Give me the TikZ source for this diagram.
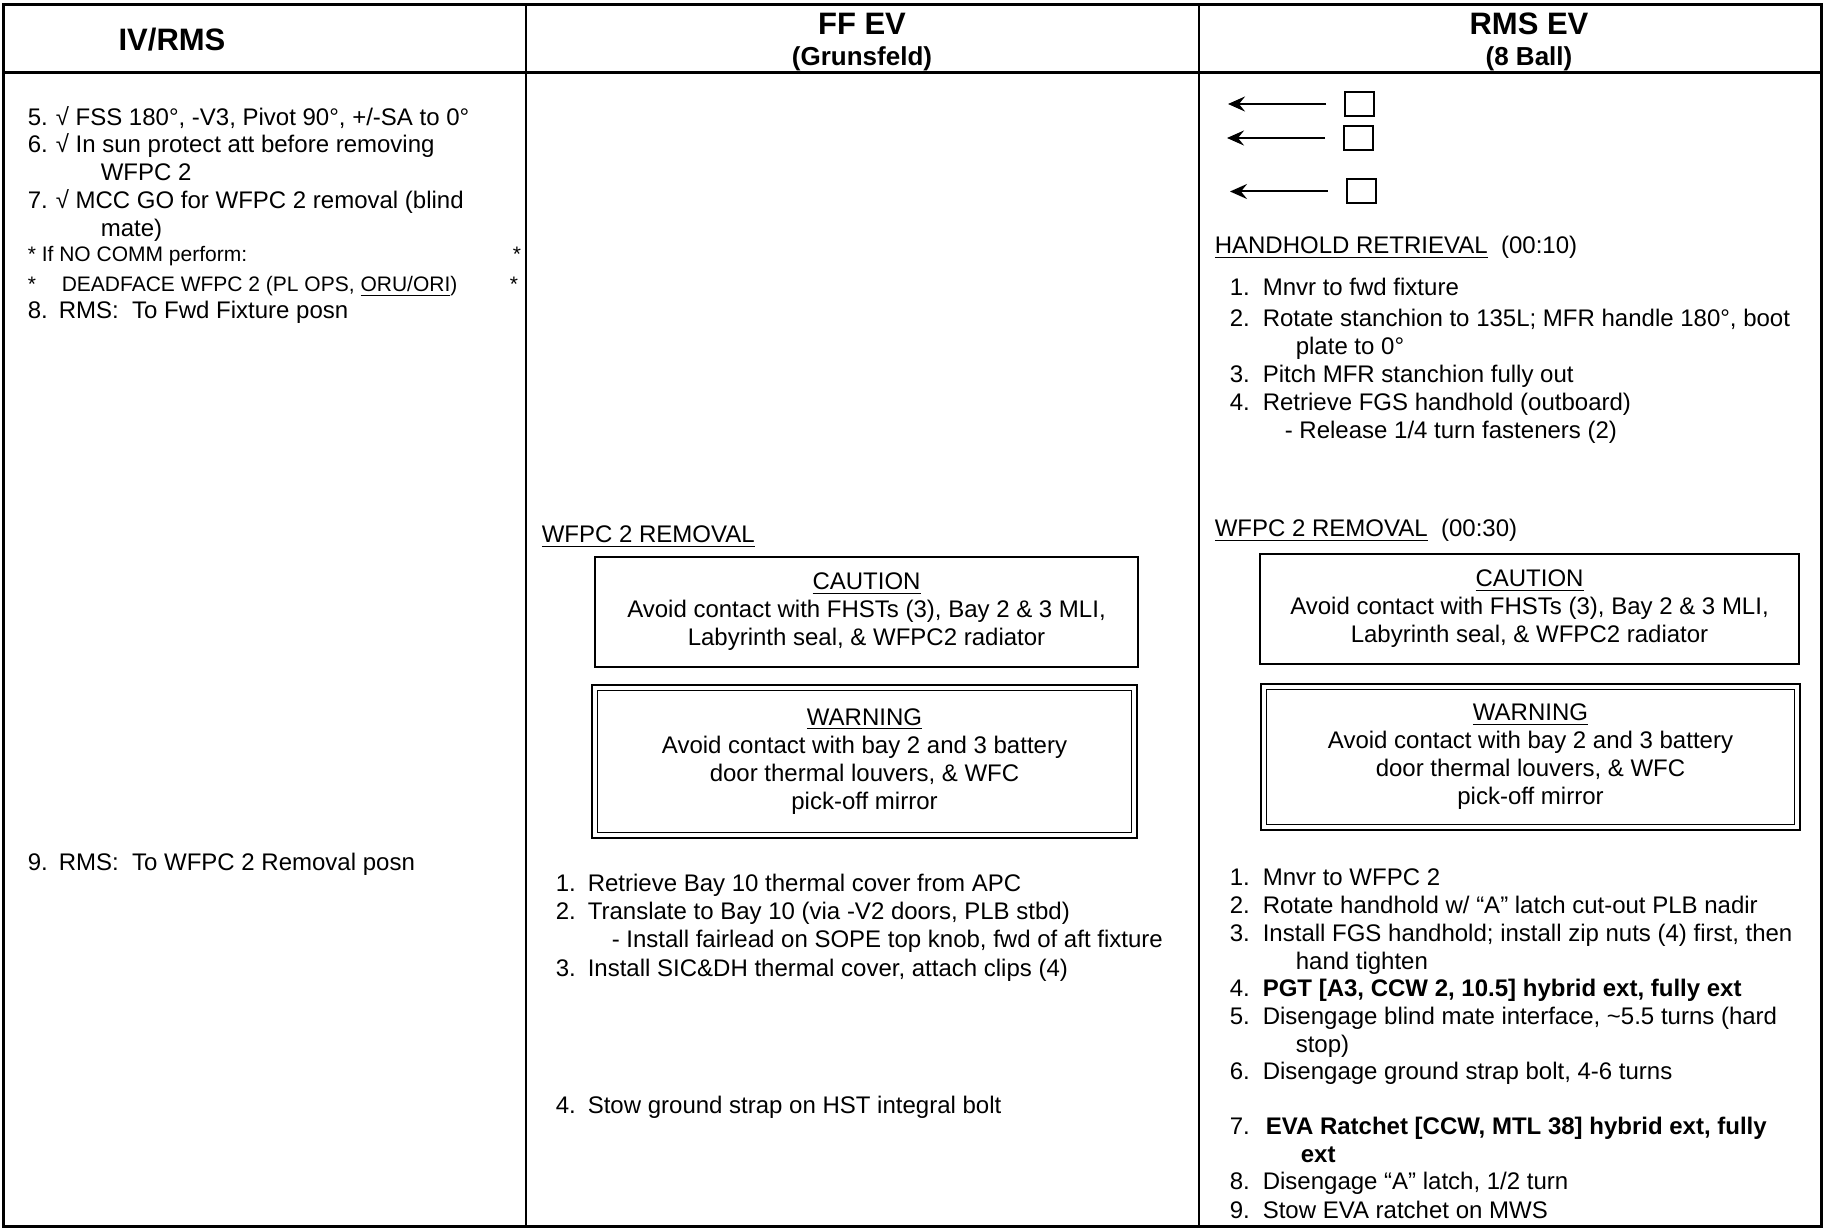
\documentclass[tikz,border=0pt]{standalone}
\usepackage{fontspec}
\setmainfont{Liberation Sans}
\usetikzlibrary{arrows.meta}
\newcommand{\stepnum}[2][16pt]{\makebox[#1][l]{#2}}
\tikzset{
    %Define standard arrow tip
    >={Stealth[length=8.5pt,width=7.5pt,inset=3pt]},
    %Define style for text lines (multi-line nodes sit on their last line)
    txt/.style={
           anchor=base west,
           inner sep=0pt,
           align=left,
           font=\fontsize{12pt}{14pt}\selectfont},
    smalltxt/.style={
           txt,
           font=\fontsize{10.5pt}{12.5pt}\selectfont},
    hdr/.style={
           anchor=base,
           inner sep=0pt,
           font=\bfseries\fontsize{15.5pt}{18pt}\selectfont},
    subhdr/.style={
           hdr,
           font=\bfseries\fontsize{13pt}{15pt}\selectfont},
    %Define style for boxes
    cautionbox/.style={
           rectangle,
           draw=black, line width=1pt,
           inner sep=0pt,
           align=center,
           font=\fontsize{12pt}{14pt}\selectfont},
    warnbox/.style={
           cautionbox,
           double, double distance=2pt, line width=0.8pt},
    chkbox/.style={
           rectangle,
           draw=black, line width=1pt,
           minimum width=14.5pt,
           minimum height=12pt},
    % Define arrow style
    pil/.style={
           ->,
           line width=1pt,
           shorten <=9pt}
}
\begin{document}
\begin{tikzpicture}[x=0.5pt,y=-0.5pt,thick]
\useasboundingbox (0,0) rectangle (1825,1229);
 %table
\draw[line width=1.5pt] (3.5,4.5) rectangle (1821.5,1226.5);
\draw[line width=1.5pt] (3.5,73) -- (1821.5,73);
\draw[line width=0.75pt] (526,4.5) -- (526,1226.5);
\draw[line width=0.75pt] (1199,4.5) -- (1199,1226.5);

 %headers
\node[hdr] (iv) at (172,51) {IV/RMS};
\node[hdr] (ffev) at (862,35) {FF EV};
\node[subhdr] (ffname) at (862,66) {(Grunsfeld)};
\node[hdr] (rmsev) at (1529,35) {RMS EV};
\node[subhdr] (rmsname) at (1529,66) {(8 Ball)};

 %IV/RMS column
\node[txt] (iv5) at (27,126) {\stepnum[14pt]{5.}√ FSS 180°, -V3, Pivot 90°, +/-SA to 0°};
\node[txt] (iv6) at (27,181) {\stepnum[14pt]{6.}√ In sun protect att before removing\\\hspace*{36.5pt}WFPC 2};
\node[txt] (iv7) at (27,237) {\stepnum[14pt]{7.}√ MCC GO for WFPC 2 removal (blind\\\hspace*{36.5pt}mate)};
\node[smalltxt] (nocomm) at (27,262) {\makebox[242.5pt][l]{* If NO COMM perform:}*};
\node[smalltxt] (deadface) at (27,292) {\makebox[17pt][l]{*}\makebox[224pt][l]{DEADFACE WFPC 2 (PL OPS, \underline{ORU/ORI})}*};
\node[txt] (iv8) at (27,319) {\stepnum[15.5pt]{8.}RMS:\ \ To Fwd Fixture posn};
\node[txt] (iv9) at (27,870) {\stepnum[15.5pt]{9.}RMS:\ \ To WFPC 2 Removal posn};

 %FF EV column
\node[txt] (ffhead) at (541,543) {\underline{WFPC 2 REMOVAL}};
\node[cautionbox, minimum width=271.5pt, minimum height=55pt] (ffcaution) at (866.5,612)
  {\underline{CAUTION}\\Avoid contact with FHSTs (3), Bay 2 \& 3 MLI,\\Labyrinth seal, \& WFPC2 radiator};
\node[warnbox, minimum width=269.9pt, minimum height=73.9pt] (ffwarn) at (864.5,761.5)
  {\underline{WARNING}\\Avoid contact with bay 2 and 3 battery\\door thermal louvers, \& WFC\\pick-off mirror};
\node[txt] (ff1) at (555,891) {\stepnum{1.}Retrieve Bay 10 thermal cover from APC};
\node[txt] (ff2) at (555,947) {\stepnum{2.}Translate to Bay 10 (via -V2 doors, PLB stbd)\\\hspace*{28pt}- Install fairlead on SOPE top knob, fwd of aft fixture};
\node[txt] (ff3) at (555,976) {\stepnum{3.}Install SIC\&DH thermal cover, attach clips (4)};
\node[txt] (ff4) at (555,1113) {\stepnum{4.}Stow ground strap on HST integral bolt};

 %RMS EV column
\node[chkbox] (chk1) at (1359.5,104) {};
\node[chkbox] (chk2) at (1358.5,138) {};
\node[chkbox] (chk3) at (1361,191.5) {};
\coordinate (tip1) at (1228,104);
\coordinate (tip2) at (1227,138);
\coordinate (tip3) at (1230,191.5);
\draw[pil] (chk1) -- (tip1);
\draw[pil] (chk2) -- (tip2);
\draw[pil] (chk3) -- (tip3);

\node[txt] (hhhead) at (1214,254) {\underline{HANDHOLD RETRIEVAL}\ \ (00:10)};
\node[txt] (hh1) at (1229,296) {\stepnum[16.5pt]{1.}Mnvr to fwd fixture};
\node[txt] (hh2) at (1229,355) {\stepnum[16.5pt]{2.}Rotate stanchion to 135L; MFR handle 180°, boot\\\hspace*{33pt}plate to 0°};
\node[txt] (hh3) at (1229,383) {\stepnum[16.5pt]{3.}Pitch MFR stanchion fully out};
\node[txt] (hh4) at (1229,439) {\stepnum[16.5pt]{4.}Retrieve FGS handhold (outboard)\\\hspace*{27.5pt}- Release 1/4 turn fasteners (2)};

\node[txt] (rmshead) at (1214,537) {\underline{WFPC 2 REMOVAL}\ \ (00:30)};
\node[cautionbox, minimum width=269.5pt, minimum height=55pt] (rmscaution) at (1529.5,609)
  {\underline{CAUTION}\\Avoid contact with FHSTs (3), Bay 2 \& 3 MLI,\\Labyrinth seal, \& WFPC2 radiator};
\node[warnbox, minimum width=266.9pt, minimum height=70.4pt] (rmswarn) at (1530.5,757)
  {\underline{WARNING}\\Avoid contact with bay 2 and 3 battery\\door thermal louvers, \& WFC\\pick-off mirror};
\node[txt] (rm1) at (1229,885) {\stepnum[16.5pt]{1.}Mnvr to WFPC 2};
\node[txt] (rm2) at (1229,913) {\stepnum[16.5pt]{2.}Rotate handhold w/ “A” latch cut-out PLB nadir};
\node[txt] (rm3) at (1229,969) {\stepnum[16.5pt]{3.}Install FGS handhold; install zip nuts (4) first, then\\\hspace*{33pt}hand tighten};
\node[txt] (rm4) at (1229,996) {\stepnum[16.5pt]{4.}\textbf{PGT [A3, CCW 2, 10.5] hybrid ext, fully ext}};
\node[txt] (rm5) at (1229,1052) {\stepnum[16.5pt]{5.}Disengage blind mate interface, \textasciitilde5.5 turns (hard\\\hspace*{33pt}stop)};
\node[txt] (rm6) at (1229,1079) {\stepnum[16.5pt]{6.}Disengage ground strap bolt, 4-6 turns};
\node[txt] (rm7) at (1229,1162) {\stepnum[18pt]{7.}\textbf{EVA Ratchet [CCW, MTL 38] hybrid ext, fully}\\\hspace*{35.5pt}\textbf{ext}};
\node[txt] (rm8) at (1229,1189) {\stepnum[16.5pt]{8.}Disengage “A” latch, 1/2 turn};
\node[txt] (rm9) at (1229,1218) {\stepnum[16.5pt]{9.}Stow EVA ratchet on MWS};
\end{tikzpicture}
\end{document}
